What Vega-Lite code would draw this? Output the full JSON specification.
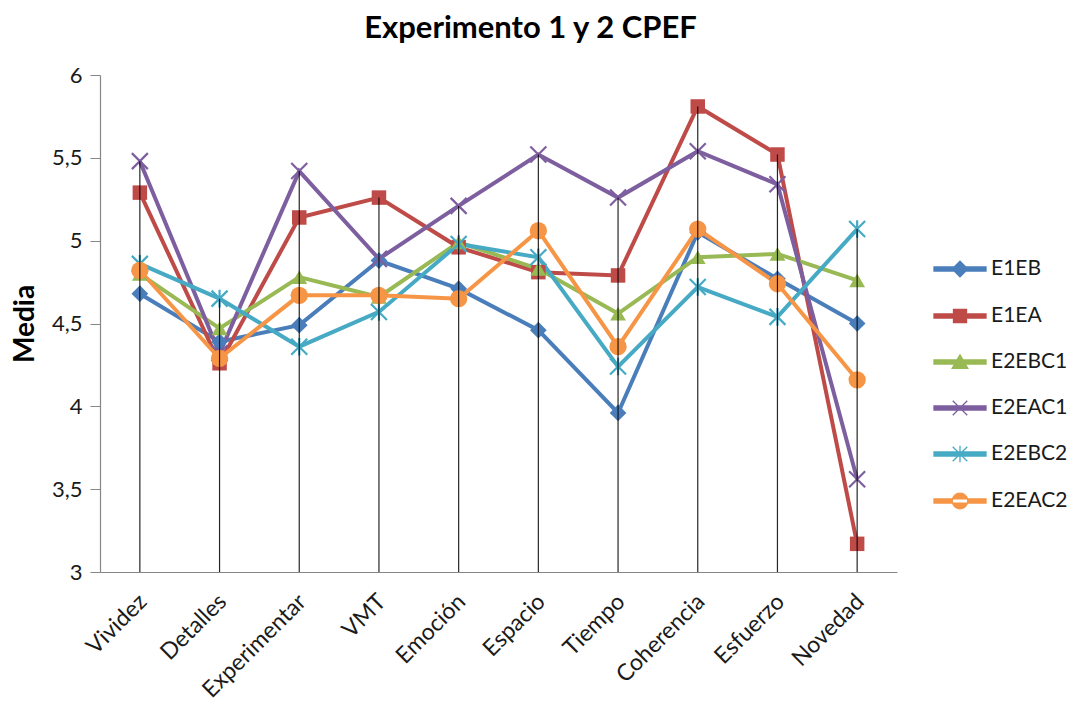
{
  "$schema": "https://vega.github.io/schema/vega-lite/v6.json",
  "width": 797,
  "height": 497,
  "autosize": "none",
  "padding": {"left": 100, "top": 75, "right": 176, "bottom": 134},
  "background": "white",
  "config": {
    "view": {"stroke": null},
    "font": "Lato",
    "axis": {"labelFont": "Lato", "titleFont": "Lato"},
    "legend": {
      "title": null,
      "orient": "none",
      "legendX": 833,
      "legendY": 167,
      "symbolSize": 2704,
      "symbolStrokeWidth": 1.3,
      "symbolOpacity": 1,
      "labelFontSize": 21,
      "labelColor": "#1a1a1a",
      "labelFont": "Lato",
      "labelOffset": 4,
      "rowPadding": 9
    }
  },
  "title": {
    "text": "Experimento 1 y 2 CPEF",
    "font": "Lato",
    "fontSize": 31,
    "fontWeight": "bold",
    "color": "#000000",
    "anchor": "middle",
    "dx": 32,
    "offset": 19
  },
  "data": {
    "values": [
      {"c": "Vividez", "s": "E1EB", "v": 4.68},
      {"c": "Detalles", "s": "E1EB", "v": 4.39},
      {"c": "Experimentar", "s": "E1EB", "v": 4.49},
      {"c": "VMT", "s": "E1EB", "v": 4.88},
      {"c": "Emoción", "s": "E1EB", "v": 4.71},
      {"c": "Espacio", "s": "E1EB", "v": 4.46},
      {"c": "Tiempo", "s": "E1EB", "v": 3.96},
      {"c": "Coherencia", "s": "E1EB", "v": 5.05},
      {"c": "Esfuerzo", "s": "E1EB", "v": 4.77},
      {"c": "Novedad", "s": "E1EB", "v": 4.50},
      {"c": "Vividez", "s": "E1EA", "v": 5.29},
      {"c": "Detalles", "s": "E1EA", "v": 4.26},
      {"c": "Experimentar", "s": "E1EA", "v": 5.14},
      {"c": "VMT", "s": "E1EA", "v": 5.26},
      {"c": "Emoción", "s": "E1EA", "v": 4.96},
      {"c": "Espacio", "s": "E1EA", "v": 4.81},
      {"c": "Tiempo", "s": "E1EA", "v": 4.79},
      {"c": "Coherencia", "s": "E1EA", "v": 5.81},
      {"c": "Esfuerzo", "s": "E1EA", "v": 5.52},
      {"c": "Novedad", "s": "E1EA", "v": 3.17},
      {"c": "Vividez", "s": "E2EBC1", "v": 4.80},
      {"c": "Detalles", "s": "E2EBC1", "v": 4.47},
      {"c": "Experimentar", "s": "E2EBC1", "v": 4.78},
      {"c": "VMT", "s": "E2EBC1", "v": 4.66},
      {"c": "Emoción", "s": "E2EBC1", "v": 4.99},
      {"c": "Espacio", "s": "E2EBC1", "v": 4.83},
      {"c": "Tiempo", "s": "E2EBC1", "v": 4.56},
      {"c": "Coherencia", "s": "E2EBC1", "v": 4.90},
      {"c": "Esfuerzo", "s": "E2EBC1", "v": 4.92},
      {"c": "Novedad", "s": "E2EBC1", "v": 4.76},
      {"c": "Vividez", "s": "E2EAC1", "v": 5.48},
      {"c": "Detalles", "s": "E2EAC1", "v": 4.32},
      {"c": "Experimentar", "s": "E2EAC1", "v": 5.42},
      {"c": "VMT", "s": "E2EAC1", "v": 4.89},
      {"c": "Emoción", "s": "E2EAC1", "v": 5.21},
      {"c": "Espacio", "s": "E2EAC1", "v": 5.52},
      {"c": "Tiempo", "s": "E2EAC1", "v": 5.26},
      {"c": "Coherencia", "s": "E2EAC1", "v": 5.54},
      {"c": "Esfuerzo", "s": "E2EAC1", "v": 5.34},
      {"c": "Novedad", "s": "E2EAC1", "v": 3.56},
      {"c": "Vividez", "s": "E2EBC2", "v": 4.86},
      {"c": "Detalles", "s": "E2EBC2", "v": 4.65},
      {"c": "Experimentar", "s": "E2EBC2", "v": 4.36},
      {"c": "VMT", "s": "E2EBC2", "v": 4.57},
      {"c": "Emoción", "s": "E2EBC2", "v": 4.98},
      {"c": "Espacio", "s": "E2EBC2", "v": 4.90},
      {"c": "Tiempo", "s": "E2EBC2", "v": 4.24},
      {"c": "Coherencia", "s": "E2EBC2", "v": 4.72},
      {"c": "Esfuerzo", "s": "E2EBC2", "v": 4.54},
      {"c": "Novedad", "s": "E2EBC2", "v": 5.07},
      {"c": "Vividez", "s": "E2EAC2", "v": 4.82},
      {"c": "Detalles", "s": "E2EAC2", "v": 4.29},
      {"c": "Experimentar", "s": "E2EAC2", "v": 4.67},
      {"c": "VMT", "s": "E2EAC2", "v": 4.67},
      {"c": "Emoción", "s": "E2EAC2", "v": 4.65},
      {"c": "Espacio", "s": "E2EAC2", "v": 5.06},
      {"c": "Tiempo", "s": "E2EAC2", "v": 4.36},
      {"c": "Coherencia", "s": "E2EAC2", "v": 5.07},
      {"c": "Esfuerzo", "s": "E2EAC2", "v": 4.74},
      {"c": "Novedad", "s": "E2EAC2", "v": 4.16}
    ]
  },
  "encoding": {
    "x": {
      "field": "c",
      "type": "nominal",
      "scale": {"type": "point", "padding": 0.5, "domain": ["Vividez", "Detalles", "Experimentar", "VMT", "Emoción", "Espacio", "Tiempo", "Coherencia", "Esfuerzo", "Novedad"]},
      "axis": {
        "title": null,
        "labelAngle": -45,
        "labelFontSize": 23,
        "labelColor": "#1a1a1a",
        "labelPadding": 18,
        "labelOffset": -5,
        "ticks": false,
        "domainColor": "#868686",
        "domainWidth": 1.2,
        "grid": false
      }
    },
    "y": {
      "field": "v",
      "type": "quantitative",
      "scale": {"domain": [3, 6], "nice": false, "zero": false},
      "axis": {
        "title": "Media",
        "titleFontSize": 28,
        "titleFontWeight": "bold",
        "titleColor": "#000000",
        "titlePadding": 12,
        "values": [3, 3.5, 4, 4.5, 5, 5.5, 6],
        "labelExpr": "replace(format(datum.value, '~g'), '.', ',')",
        "labelFontSize": 22,
        "labelColor": "#1a1a1a",
        "labelPadding": 8,
        "tickSize": 10,
        "tickColor": "#868686",
        "domainColor": "#868686",
        "domainWidth": 1.2,
        "grid": false
      }
    }
  },
  "layer": [
    {
      "mark": {"type": "line", "strokeWidth": 4},
      "encoding": {
        "color": {
          "field": "s",
          "type": "nominal",
          "scale": {"domain": ["E1EB", "E1EA", "E2EBC1", "E2EAC1", "E2EBC2", "E2EAC2"], "range": ["#4A7EBB", "#BE4B48", "#98B954", "#7D5FA0", "#46AAC5", "#F69545"]}
        }
      }
    },
    {
      "transform": [{"filter": "datum.s === 'E1EB'"}],
      "mark": {"type": "point", "shape": "diamond", "filled": true, "opacity": 1, "size": 280, "color": "#4A7EBB"}
    },
    {
      "transform": [{"filter": "datum.s === 'E1EA'"}],
      "mark": {"type": "point", "shape": "square", "filled": true, "opacity": 1, "size": 210, "color": "#BE4B48"}
    },
    {
      "transform": [{"filter": "datum.s === 'E2EBC1'"}],
      "mark": {"type": "point", "shape": "triangle-up", "filled": true, "opacity": 1, "size": 250, "color": "#98B954"}
    },
    {
      "transform": [{"filter": "datum.s === 'E2EAC1'"}],
      "mark": {"type": "point", "shape": "M-1,-1L1,1M-1,1L1,-1", "filled": false, "opacity": 1, "size": 256, "strokeWidth": 2.2, "color": "#7D5FA0"}
    },
    {
      "transform": [{"filter": "datum.s === 'E2EBC2'"}],
      "mark": {"type": "point", "shape": "M-1,-1L1,1M-1,1L1,-1M0,-1.1L0,1.1", "filled": false, "opacity": 1, "size": 256, "strokeWidth": 2.2, "color": "#46AAC5"}
    },
    {
      "transform": [{"filter": "datum.s === 'E2EAC2'"}],
      "mark": {"type": "point", "shape": "circle", "filled": true, "opacity": 1, "size": 300, "color": "#F69545"}
    },
    {
      "transform": [{"aggregate": [{"op": "max", "field": "v", "as": "vmax"}], "groupby": ["c"]}],
      "mark": {"type": "rule", "color": "#000000", "strokeWidth": 1.2, "opacity": 0.85},
      "encoding": {
        "y": {"field": "vmax", "type": "quantitative"},
        "y2": {"datum": 3}
      }
    },
    {
      "transform": [{"filter": "false"}],
      "mark": {"type": "point", "filled": true, "opacity": 1, "size": 2704, "strokeWidth": 1.3},
      "encoding": {
        "color": {"field": "s", "type": "nominal"},
        "stroke": {
          "field": "s",
          "type": "nominal",
          "scale": {"domain": ["E1EB", "E1EA", "E2EBC1", "E2EAC1", "E2EBC2", "E2EAC2"], "range": ["#4A7EBB", "#BE4B48", "#98B954", "#7D5FA0", "#46AAC5", "#F69545"]}
        },
        "shape": {
          "field": "s",
          "type": "nominal",
          "scale": {
            "domain": ["E1EB", "E1EA", "E2EBC1", "E2EAC1", "E2EBC2", "E2EAC2"],
            "range": [
              "M-1,-0.08H1V0.08H-1ZM0,-0.3L0.3,0L0,0.3L-0.3,0Z",
              "M-1,-0.08H1V0.08H-1ZM-0.25,-0.25H0.25V0.25H-0.25Z",
              "M-1,-0.08H1V0.08H-1ZM0,-0.28L0.3,0.24L-0.3,0.24Z",
              "M-1,-0.08H1V0.08H-1ZM-0.28,-0.28L0.28,0.28M-0.28,0.28L0.28,-0.28",
              "M-1,-0.08H1V0.08H-1ZM-0.28,-0.28L0.28,0.28M-0.28,0.28L0.28,-0.28M0,-0.32L0,0.32",
              "M-1,-0.08H1V0.08H-1ZM-0.3,0A0.3,0.3 0 1,0 0.3,0A0.3,0.3 0 1,0 -0.3,0Z"
            ]
          }
        }
      }
    }
  ]
}
